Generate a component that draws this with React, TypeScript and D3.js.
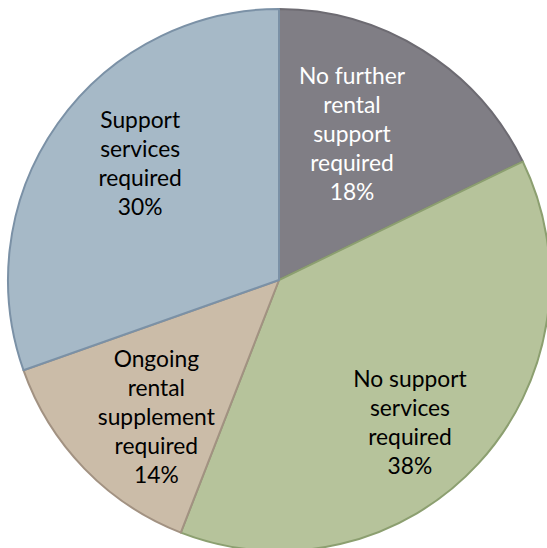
import React from "react";
import * as d3 from "d3";

const categories = [
  "No further rental support required",
  "No support services required",
  "Ongoing rental supplement required",
  "Support services required",
];
const values = [17.8, 38.1, 13.7, 30.4];
const labelWords = [
  ["No further", "rental", "support", "required"],
  ["No support", "services", "required"],
  ["Ongoing", "rental", "supplement", "required"],
  ["Support", "services", "required"],
];
const fills = ["#807e85", "#b6c39b", "#cbbca8", "#a6b9c7"];
const strokes = ["#6d6b72", "#8c9f70", "#a29282", "#7b91a6"];
const textColors = ["#ffffff", "#000000", "#000000", "#000000"];
// label placement: [angle offset (deg), radius]
const labelPlace = [
  [-5.6, 164],
  [4.6, 193],
  [-3.8, 183],
  [5.0, 182],
];

const W = 547;
const H = 548;
const cx = 279;
const cy = 280;
const R = 271;

export default function App() {
  const pie = d3.pie<number>().sort(null).value((d) => d)(values);
  const arc = d3.arc<d3.PieArcDatum<number>>().innerRadius(0).outerRadius(R);
  const total = d3.sum(values);
  const fontSize = 22.8;
  const lineH = 29;
  return (
    <svg
      width={W}
      height={H}
      style={{ position: "absolute", left: 0, top: 0, display: "block" }}
    >
      <rect width={W} height={H} fill="#ffffff" />
      <g transform={`translate(${cx},${cy})`}>
        {pie.map((p, i) => (
          <path
            key={categories[i]}
            d={arc(p) || ""}
            fill={fills[i]}
            stroke={strokes[i]}
            strokeWidth={2}
            strokeLinejoin="round"
          />
        ))}
        {pie.map((p, i) => {
          const mid = (p.startAngle + p.endAngle) / 2 + (labelPlace[i][0] * Math.PI) / 180;
          const r = labelPlace[i][1];
          const x = Math.sin(mid) * r;
          const y = -Math.cos(mid) * r;
          const lines = [...labelWords[i], `${Math.round((values[i] / total) * 100)}%`];
          const y0 = y - ((lines.length - 1) * lineH) / 2;
          return (
            <text
              key={"t" + i}
              x={x}
              textAnchor="middle"
              fontFamily="Lato, 'Open Sans', sans-serif"
              fontSize={fontSize}
              fill={textColors[i]}
            >
              {lines.map((l, j) => (
                <tspan key={j} x={x} y={y0 + j * lineH} dominantBaseline="central">
                  {l}
                </tspan>
              ))}
            </text>
          );
        })}
      </g>
    </svg>
  );
}
